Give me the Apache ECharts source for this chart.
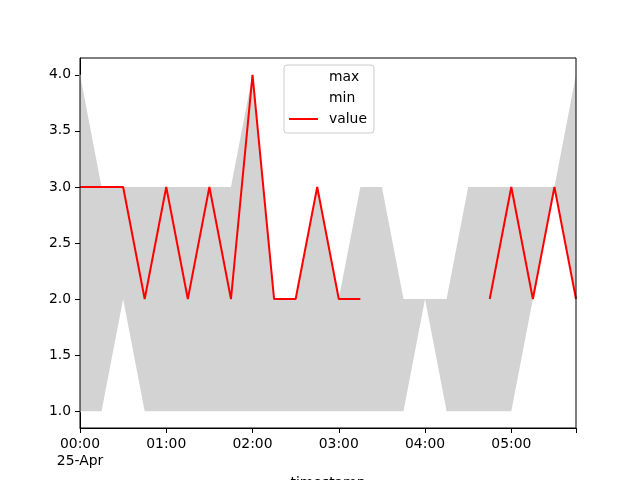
<!DOCTYPE html>
<html>
<head>
<meta charset="utf-8">
<script src="https://cdn.jsdelivr.net/npm/echarts@6/dist/echarts.min.js"></script>
<style>html,body{margin:0;padding:0;background:#fff}#c{width:640px;height:480px}</style>
</head>
<body>
<div id="c"></div>
<script>
const times = ['00:00','00:15','00:30','00:45','01:00','01:15','01:30','01:45','02:00','02:15','02:30','02:45','03:00','03:15','03:30','03:45','04:00','04:15','04:30','04:45','05:00','05:15','05:30','05:45'];
const maxVals = [4,3,3,3,3,3,3,3,4,2,2,3,2,3,3,2,2,2,3,3,3,3,3,4];
const minVals = [1,1,2,1,1,1,1,1,1,1,1,1,1,1,1,1,2,1,1,1,1,2,3,2];
const values  = [3,3,3,2,3,2,3,2,4,2,2,3,2,2,null,null,null,null,null,2,3,2,3,2];
const xTickLabels = {'00:00': '00:00\n25-Apr', '01:00': '01:00', '02:00': '02:00', '03:00': '03:00', '04:00': '04:00', '05:00': '05:00'};
const yTickLabels = [1.0,1.5,2.0,2.5,3.0,3.5,4.0];

const bandVals = maxVals.map((v, i) => v - minVals[i]);
const last = times.length - 1;

const FONT = 'DejaVu Sans';
const chart = echarts.init(document.getElementById('c'), null, {renderer: 'canvas'});
chart.setOption({
  animation: false,
  backgroundColor: '#fff',
  grid: {left: 80, right: 64, top: 58, bottom: 52, outerBoundsMode: 'none', containLabel: false,
    show: true, borderColor: '#000', borderWidth: 1, backgroundColor: 'transparent', z: 5},
  legend: {
    orient: 'vertical', left: 284, top: 65,
    padding: [4, 7, 6, 5], itemGap: 5, itemWidth: 29, itemHeight: 2, icon: 'rect',
    borderColor: '#cccccc', borderWidth: 1, borderRadius: 3, backgroundColor: 'rgba(255,255,255,0.8)',
    textStyle: {fontFamily: FONT, fontSize: 13.9, color: '#000', padding: [0, 0, 0, 6], lineHeight: 16},
    data: ['max', 'min', 'value']
  },
  xAxis: {
    type: 'category', data: times, boundaryGap: false,
    name: 'timestamp', nameLocation: 'middle', nameGap: 48,
    nameTextStyle: {fontFamily: FONT, fontSize: 13.9, color: '#000'},
    axisLine: {lineStyle: {color: '#000', width: 1}},
    axisTick: {show: true, length: 5, lineStyle: {color: '#000'}, interval: i => (xTickLabels[times[i]] !== undefined) || i === last},
    axisLabel: {fontFamily: FONT, fontSize: 13.9, color: '#000', margin: 8, lineHeight: 17,
      interval: i => xTickLabels[times[i]] !== undefined, formatter: v => xTickLabels[v] || ''},
    splitLine: {show: false}
  },
  yAxis: {
    type: 'value', min: 0.85, max: 4.15,
    axisLine: {show: true, lineStyle: {color: '#000', width: 1}},
    axisTick: {show: true, length: 5, lineStyle: {color: '#000'}, customValues: yTickLabels},
    axisLabel: {fontFamily: FONT, fontSize: 13.9, color: '#000', margin: 9,
      customValues: yTickLabels, formatter: v => v.toFixed(1)},
    splitLine: {show: false}
  },
  series: [
    {name: 'max', type: 'line', data: maxVals, symbol: 'none', color: '#ffffff', lineStyle: {color: '#ffffff', width: 2}, z: 1},
    {name: 'min', type: 'line', data: minVals, symbol: 'none', color: '#ffffff', lineStyle: {color: '#ffffff', width: 2}, z: 1},
    {name: 'bandBase', type: 'line', stack: 'band', data: minVals, symbol: 'none', lineStyle: {opacity: 0}, silent: true, z: 2},
    {name: 'band', type: 'line', stack: 'band', data: bandVals, symbol: 'none', lineStyle: {opacity: 0},
      areaStyle: {color: '#d3d3d3', opacity: 1}, silent: true, z: 2},
    {name: 'value', type: 'line', data: values, symbol: 'none', connectNulls: false, color: '#ff0000',
      lineStyle: {color: '#ff0000', width: 2}, z: 3}
  ]
});
</script>
</body>
</html>
